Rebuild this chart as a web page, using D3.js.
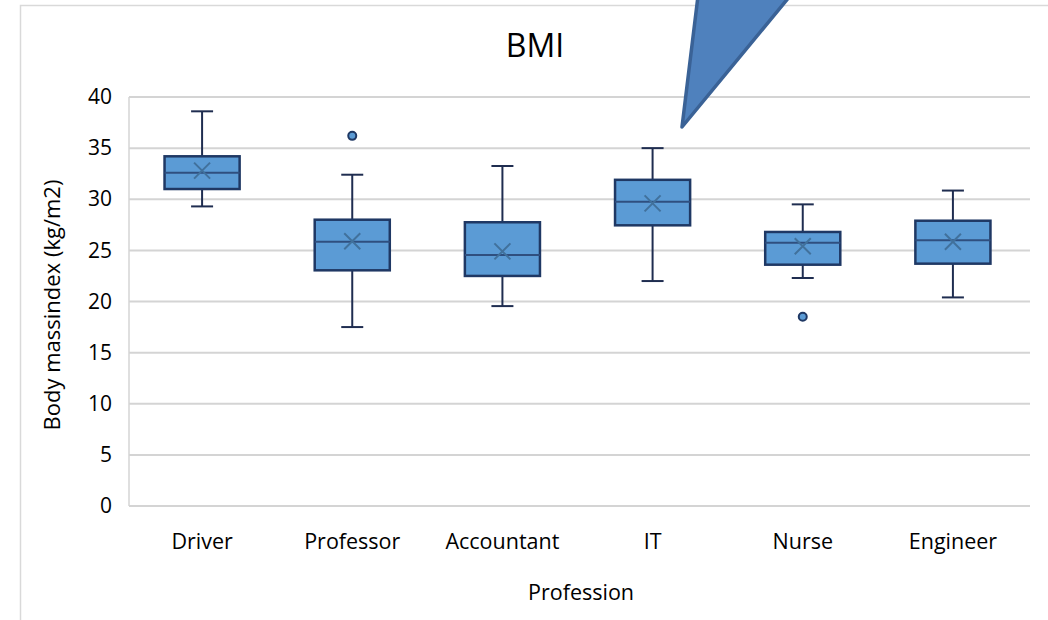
<html>
<head>
<script src="https://cdn.jsdelivr.net/npm/d3@7"></script>
<style>
  body { margin: 0; background: #fff; }
  text { font-family: 'Open Sans', 'Noto Sans', sans-serif; fill: #000; }
</style>
</head>
<body>
<svg id="chart" width="1048" height="620"></svg>
<script>
// data
var professions = ["Driver", "Professor", "Accountant", "IT", "Nurse", "Engineer"];
var whiskerLow  = [29.3, 17.5, 19.55, 22.0, 22.3, 20.4];
var q1          = [31.0, 23.05, 22.5, 27.45, 23.6, 23.7];
var median      = [32.6, 25.85, 24.55, 29.75, 25.75, 26.0];
var q3          = [34.2, 28.0, 27.75, 31.9, 26.8, 27.9];
var whiskerHigh = [38.6, 32.4, 33.25, 35.0, 29.5, 30.85];
var meanVal     = [32.8, 25.9, 24.9, 29.6, 25.4, 25.85];
var outliers    = [[], [36.2], [], [], [18.5], []];
var yTicks      = [0, 5, 10, 15, 20, 25, 30, 35, 40];

var svg = d3.select("#chart");
// note: "top" is taken by window.top, so use other names
var plotLeft = 129, plotRight = 1030, plotTop = 97, plotBottom = 506;

// chart frame
svg.append("path")
    .attr("d", "M20.5,620 V5.5 H1048")
    .attr("fill", "none")
    .attr("stroke", "#d9d9d9")
    .attr("stroke-width", 1.5);

var x = d3.scaleBand().domain(professions).range([plotLeft - 2, plotRight - 2]);
var y = d3.scaleLinear().domain([0, 40]).range([plotBottom, plotTop]);

// gridlines
svg.append("g").selectAll("line")
    .data(yTicks)
    .enter().append("line")
    .attr("x1", plotLeft).attr("x2", plotRight)
    .attr("y1", function(d) { return y(d); })
    .attr("y2", function(d) { return y(d); })
    .attr("stroke", "#d4d4d4")
    .attr("stroke-width", 2);

svg.append("line")
    .attr("x1", plotLeft).attr("x2", plotLeft)
    .attr("y1", plotTop).attr("y2", plotBottom)
    .attr("stroke", "#d4d4d4").attr("stroke-width", 1.5);

// y axis labels
var yAxis = d3.axisLeft(y).tickValues(yTicks).tickSize(0).tickPadding(17);
var gy = svg.append("g").attr("transform", "translate(" + plotLeft + ",0)").call(yAxis);
gy.select(".domain").remove();
gy.selectAll("text")
    .style("font-size", "21px")
    .attr("fill", "#000")
    .style("font-family", "'Open Sans', sans-serif");

// x axis labels
var xAxis = d3.axisBottom(x).tickSize(0).tickPadding(28);
var gx = svg.append("g").attr("transform", "translate(0," + plotBottom + ")").call(xAxis);
gx.select(".domain").remove();
gx.selectAll("text")
    .style("font-size", "21.5px")
    .attr("fill", "#000")
    .style("font-family", "'Open Sans', sans-serif");

var boxW = x.bandwidth() * 0.5;
var capW = 22;
var idx = d3.range(professions.length);

var boxes = svg.append("g").selectAll("g.box")
    .data(idx)
    .enter().append("g")
    .attr("class", "box")
    .attr("transform", function(i) {
        return "translate(" + (x(professions[i]) + x.bandwidth() / 2) + ",0)";
    });

// whiskers
boxes.append("line")
    .attr("x1", 0).attr("x2", 0)
    .attr("y1", function(i) { return y(whiskerHigh[i]); })
    .attr("y2", function(i) { return y(q3[i]); })
    .attr("stroke", "#1f2d50").attr("stroke-width", 2);
boxes.append("line")
    .attr("x1", 0).attr("x2", 0)
    .attr("y1", function(i) { return y(q1[i]); })
    .attr("y2", function(i) { return y(whiskerLow[i]); })
    .attr("stroke", "#1f2d50").attr("stroke-width", 2);
boxes.append("line")
    .attr("x1", -capW / 2).attr("x2", capW / 2)
    .attr("y1", function(i) { return y(whiskerHigh[i]); })
    .attr("y2", function(i) { return y(whiskerHigh[i]); })
    .attr("stroke", "#1f2d50").attr("stroke-width", 2);
boxes.append("line")
    .attr("x1", -capW / 2).attr("x2", capW / 2)
    .attr("y1", function(i) { return y(whiskerLow[i]); })
    .attr("y2", function(i) { return y(whiskerLow[i]); })
    .attr("stroke", "#1f2d50").attr("stroke-width", 2);

// box
boxes.append("rect")
    .attr("x", -boxW / 2)
    .attr("width", boxW)
    .attr("y", function(i) { return y(q3[i]); })
    .attr("height", function(i) { return y(q1[i]) - y(q3[i]); })
    .attr("fill", "#5b9bd5")
    .attr("stroke", "#1f3864")
    .attr("stroke-width", 2.5);

// median
boxes.append("line")
    .attr("x1", -boxW / 2).attr("x2", boxW / 2)
    .attr("y1", function(i) { return y(median[i]); })
    .attr("y2", function(i) { return y(median[i]); })
    .attr("stroke", "#2f4f7f").attr("stroke-width", 2);

// mean marker
boxes.append("path")
    .attr("d", function(i) {
        var c = y(meanVal[i]), s = 8;
        return "M" + (-s) + "," + (c - s) + "L" + s + "," + (c + s) +
               "M" + s + "," + (c - s) + "L" + (-s) + "," + (c + s);
    })
    .attr("stroke", "#41719c").attr("stroke-width", 2).attr("fill", "none");

// outliers
boxes.selectAll("circle")
    .data(function(i) { return outliers[i]; })
    .enter().append("circle")
    .attr("cx", 0)
    .attr("cy", function(d) { return y(d); })
    .attr("r", 4)
    .attr("fill", "#5b9bd5")
    .attr("stroke", "#1f3864")
    .attr("stroke-width", 2);

// titles
svg.append("text")
    .attr("x", 535).attr("y", 57)
    .attr("text-anchor", "middle")
    .style("font-size", "32px")
    .text("BMI");

svg.append("text")
    .attr("x", 581).attr("y", 600)
    .attr("text-anchor", "middle")
    .style("font-size", "21.5px")
    .text("Profession");

svg.append("text")
    .attr("transform", "translate(60,305) rotate(-90)")
    .attr("text-anchor", "middle")
    .style("font-size", "22px")
    .text("Body massindex (kg/m2)");

// callout wedge over the top
svg.append("path")
    .attr("d", "M698,-4 L682,127 L790,-4 Z")
    .attr("fill", "#4f81bd")
    .attr("stroke", "#3a6296")
    .attr("stroke-width", 3.5)
    .attr("stroke-linejoin", "round");
</script>
</body>
</html>
